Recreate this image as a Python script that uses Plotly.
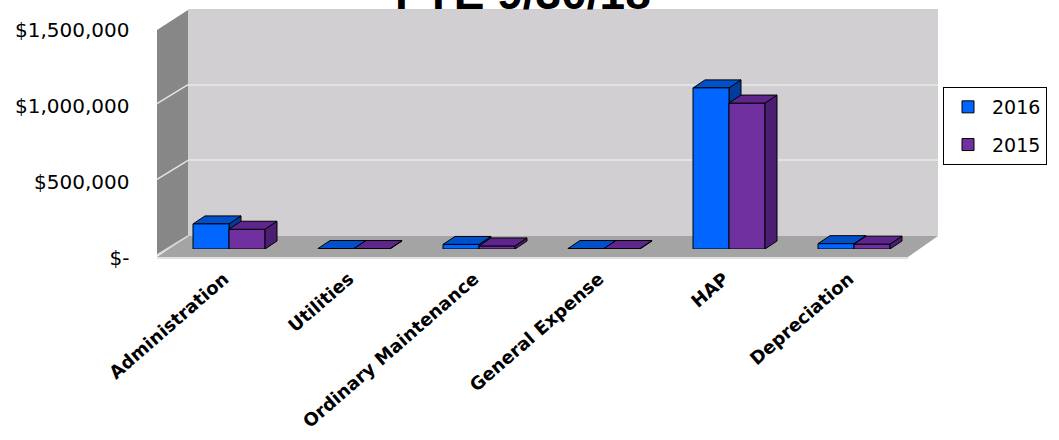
import plotly.graph_objects as go

# ---------------- data ----------------
categories = ["Administration", "Utilities", "Ordinary Maintenance",
              "General Expense", "HAP", "Depreciation"]
values_2016 = [165000, 3000, 30000, 3000, 1060000, 35000]
values_2015 = [130000, 3000, 20000, 3000, 960000, 32000]
series_names = ["2016", "2015"]
tick_values = [0, 500000, 1000000, 1500000]
tick_labels = ["$-", "$500,000", "$1,000,000", "$1,500,000"]
title_text = "FYE 9/30/18"

# ---------------- geometry (pixels) ----------------
W, H = 1059, 440
PL, PR, PT, PB = 157, 938, 8, 257          # outer plot box
PW, PH = PR - PL, PB - PT
BACK_L, BACK_BOT, BACK_TOP = 188, 236, 9   # back wall
BAR_L, BAR_R, BAR_BOT, BAR_TOP = 166.5, 916.5, 249, 21
FLOOR_FR = 908
YMAX = 1500000
BARGAP = 0.424
DX, DY = 12, 8                               # depth offset of bar faces


def px(x):
    return (x - PL) / PW


def py(y):
    return (PB - y) / PH


bar_w = (BAR_R - BAR_L) / len(categories) * (1 - BARGAP) / 2
dpp = YMAX / (BAR_BOT - BAR_TOP)             # data units per pixel

C16, C16_TOP, C16_SIDE = "#0066FF", "#0050CC", "#003C9C"
C15, C15_TOP, C15_SIDE = "#7030A0", "#5E268C", "#4A1E72"

fig = go.Figure()
# back-wall subplot (gridlines only)
fig.add_trace(go.Scatter(x=[], y=[], xaxis="x", yaxis="y", showlegend=False, hoverinfo="skip"))

fig.add_trace(go.Bar(x=categories, y=values_2016, name=series_names[0], xaxis="x2", yaxis="y2",
                     marker=dict(color=C16, line=dict(color="black", width=1)),
                     legendgroup="a"))
fig.add_trace(go.Bar(x=categories, y=values_2015, name=series_names[1], xaxis="x2", yaxis="y2",
                     marker=dict(color=C15, line=dict(color="black", width=1)),
                     legendgroup="b"))

shapes = []
# walls
shapes.append(dict(type="rect", xref="paper", yref="paper", layer="below",
                   x0=px(BACK_L), x1=px(PR), y0=py(BACK_BOT), y1=py(BACK_TOP),
                   fillcolor="#D1CFD1", line=dict(width=0)))
shapes.append(dict(type="path", xref="paper", yref="paper", layer="below",
                   path=f"M{px(PL)},{py(30)} L{px(BACK_L)},{py(BACK_TOP + 1)} L{px(BACK_L)},{py(BACK_BOT)} "
                        f"L{px(PL)},{py(PB - 2)} Z",
                   fillcolor="#878787", line=dict(width=0)))
shapes.append(dict(type="path", xref="paper", yref="paper", layer="below",
                   path=f"M{px(PL)},{py(PB)} L{px(BACK_L)},{py(BACK_BOT)} L{px(PR)},{py(BACK_BOT)} "
                        f"L{px(FLOOR_FR)},{py(PB)} Z",
                   fillcolor="#A4A4A4", line=dict(width=0)))
shapes.append(dict(type="line", xref="paper", yref="paper", layer="below",
                   x0=px(PL), x1=px(FLOOR_FR), y0=py(PB + 1), y1=py(PB + 1),
                   line=dict(color="#E2E2E2", width=2)))
shapes.append(dict(type="line", xref="paper", yref="paper", layer="below",
                   x0=px(PL), x1=px(BACK_L), y0=py(PB - 2), y1=py(BACK_BOT),
                   line=dict(color="#D8D8D8", width=1.5)))
# side-wall gridlines
front_scale = (PB - 30) / YMAX
back_scale = (BACK_BOT - BACK_TOP) / YMAX
for v in tick_values[1:-1]:
    shapes.append(dict(type="line", xref="paper", yref="paper", layer="below",
                       x0=px(PL), x1=px(BACK_L),
                       y0=py(PB - 2 - v * front_scale), y1=py(BACK_BOT - v * back_scale),
                       line=dict(color="#E4E4E4", width=1.5)))

# 3D faces of the bars
for i, (v16, v15) in enumerate(zip(values_2016, values_2015)):
    shapes.append(dict(type="path", xref="x2", yref="y2", layer="between",
                       xsizemode="pixel", xanchor=i, ysizemode="scaled",
                       path=f"M0,0 L0,{v16} L{DX},{v16 + DY * dpp} L{DX},{DY * dpp} Z",
                       fillcolor=C16_SIDE, line=dict(color="black", width=1)))
    shapes.append(dict(type="path", xref="x2", yref="y2", layer="between",
                       xsizemode="pixel", xanchor=i, ysizemode="pixel", yanchor=v16,
                       path=f"M{-bar_w},0 L0,0 L{DX},{DY} L{-bar_w + DX},{DY} Z",
                       fillcolor=C16_TOP, line=dict(color="black", width=1)))
    shapes.append(dict(type="path", xref="x2", yref="y2", layer="above",
                       xsizemode="pixel", xanchor=i, ysizemode="scaled",
                       path=f"M{bar_w},0 L{bar_w},{v15} L{bar_w + DX},{v15 + DY * dpp} "
                            f"L{bar_w + DX},{DY * dpp} Z",
                       fillcolor=C15_SIDE, line=dict(color="black", width=1)))
    shapes.append(dict(type="path", xref="x2", yref="y2", layer="above",
                       xsizemode="pixel", xanchor=i, ysizemode="pixel", yanchor=v15,
                       path=f"M0,0 L{bar_w},0 L{bar_w + DX},{DY} L{DX},{DY} Z",
                       fillcolor=C15_TOP, line=dict(color="black", width=1)))

fig.update_layout(
    width=W, height=H,
    margin=dict(l=PL, r=W - PR, t=PT, b=H - PB, pad=0, autoexpand=False),
    paper_bgcolor="white", plot_bgcolor="rgba(0,0,0,0)",
    barmode="group", bargap=BARGAP, bargroupgap=0,
    showlegend=True,
    xaxis=dict(domain=[px(BACK_L), 1], range=[0, 1], visible=False, fixedrange=True,
               automargin=False),
    yaxis=dict(domain=[py(BACK_BOT), py(BACK_TOP)], range=[0, YMAX], tickvals=tick_values,
               showgrid=True, gridcolor="#E2E2E2", gridwidth=1.5, automargin=False,
               showticklabels=False, zeroline=False, showline=False, ticks=""),
    xaxis2=dict(domain=[px(BAR_L), px(BAR_R)], anchor="y2", showgrid=False, showline=False,
                ticks="", tickangle=-41, ticklabelstandoff=15, ticklabelshift=-5,
                automargin=False,
                tickfont=dict(family="DejaVu Sans", size=18, color="black", weight="bold")),
    yaxis2=dict(domain=[py(BAR_BOT), py(BAR_TOP)], anchor="x2", range=[0, YMAX],
                tickvals=tick_values, ticktext=tick_labels, showgrid=False, zeroline=False,
                showline=False, ticks="", ticklabelshift=9, ticklabelstandoff=36,
                automargin=False,
                tickfont=dict(family="DejaVu Sans", size=20, color="black")),
    legend=dict(x=px(943), y=py(87), xanchor="left", yanchor="top",
                bordercolor="black", borderwidth=1, bgcolor="white", itemwidth=38,
                font=dict(family="DejaVu Sans", size=19, color="black"),
                tracegroupgap=10, traceorder="grouped"),
    shapes=shapes,
    annotations=[dict(text=f"<b>{title_text}</b>", xref="paper", yref="paper",
                      x=px(523), y=py(21), xanchor="center", yanchor="bottom",
                      showarrow=False,
                      font=dict(family="Liberation Sans", size=46, color="black"))],
)

fig.write_html("out.html")
